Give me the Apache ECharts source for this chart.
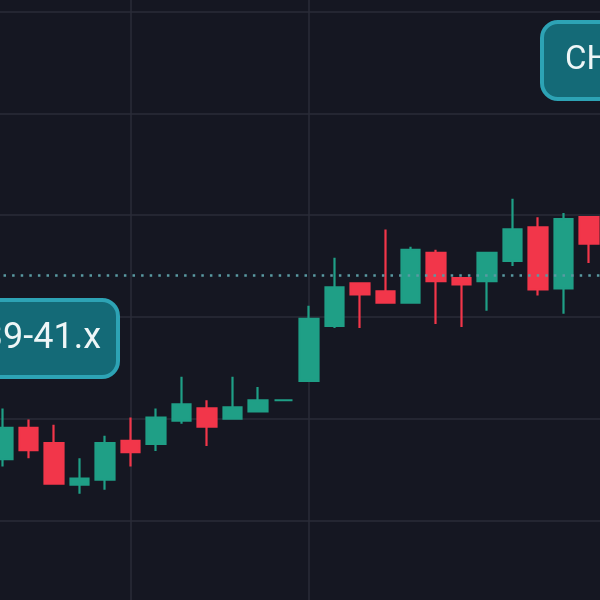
<!DOCTYPE html>
<html>
<head>
<meta charset="utf-8">
<style>html,body{margin:0;padding:0;background:#151722;}#c{width:600px;height:600px;}</style>
<script src="https://cdn.jsdelivr.net/npm/echarts@6/dist/echarts.min.js"></script>
</head>
<body>
<div id="c"></div>
<script>
const categories = ['1','2','3','4','5','6','7','8','9','10','11','12','13','14','15','16','17','18','19','20','21','22','23','24'];
const opens  = [36.60,36.91,36.76,36.35,36.40,36.78,36.75,36.98,37.10,37.00,37.07,37.18,37.37,37.91,38.33,38.25,38.14,38.63,38.38,38.35,38.55,38.88,38.28,38.98];
const closes = [36.91,36.69,36.36,36.41,36.76,36.67,37.01,37.14,36.92,37.11,37.18,37.18,37.98,38.29,38.22,38.14,38.66,38.35,38.32,38.63,38.86,38.27,38.96,38.72];
const lows   = [36.53,36.61,36.35,36.26,36.30,36.53,36.68,36.95,36.73,36.99,37.07,37.18,37.37,37.89,37.89,38.13,38.13,37.93,37.90,38.06,38.50,38.21,38.03,38.53];
const highs  = [37.10,36.99,36.94,36.61,36.83,37.01,37.10,37.41,37.18,37.41,37.31,37.18,38.11,38.58,38.33,38.86,38.69,38.66,38.38,38.63,39.16,38.98,39.02,38.98];
const refLevel = 38.41;
const leftLabel = '39-41.x';
const rightLabel = 'CH';
const gridLineCats = ['6', '13'];

const ohlc = categories.map((c, i) => [opens[i], closes[i], lows[i], highs[i]]);
const UP = '#1f9f86', DOWN = '#f2364a';

const chart = echarts.init(document.getElementById('c'), null, {renderer: 'canvas'});
chart.setOption({
  backgroundColor: '#151722',
  animation: false,
  grid: {left: -22.3, right: -14.5, top: -90, bottom: -22, outerBoundsMode: 'none', containLabel: false},
  xAxis: {
    type: 'category', data: categories, boundaryGap: false, min: -1, max: 24,
    axisLine: {show: false}, axisTick: {show: false}, axisLabel: {show: false},
    splitLine: {show: true, interval: (idx, val) => gridLineCats.indexOf(val) >= 0,
      lineStyle: {color: '#2a2d39', width: 1.5}}
  },
  yAxis: {
    type: 'value', min: 35, max: 42, interval: 1,
    axisLine: {show: false}, axisTick: {show: false}, axisLabel: {show: false},
    splitLine: {show: true, lineStyle: {color: '#2a2d39', width: 1.5}}
  },
  series: [{
    type: 'candlestick',
    data: ohlc,
    barWidth: 19,
    clip: false,
    itemStyle: {color: UP, color0: DOWN, borderColor: UP, borderColor0: DOWN, borderColorDoji: UP, borderWidth: 2.2},
    markLine: {
      silent: true, symbol: 'none', animation: false,
      label: {show: false},
      lineStyle: {color: '#5a9aa2', type: [2.5, 6.1], width: 2.5},
      data: [{yAxis: refLevel}]
    }
  }],
  graphic: [
    {type: 'group', z: 100, children: [
      {type: 'rect', z: 100, shape: {x: -40, y: 300, width: 158, height: 77, r: 16},
        style: {fill: '#146a77', stroke: '#2da3b5', lineWidth: 4}},
      {type: 'text', z: 101, x: 101, y: 339,
        style: {text: leftLabel, fill: '#eef6f7', font: '36px Roboto', align: 'right', verticalAlign: 'middle'}}
    ]},
    {type: 'group', z: 100, children: [
      {type: 'rect', z: 100, shape: {x: 542, y: 22, width: 110, height: 77, r: 16},
        style: {fill: '#146a77', stroke: '#2da3b5', lineWidth: 4}},
      {type: 'text', z: 101, x: 565, y: 61,
        style: {text: rightLabel, fill: '#eef6f7', font: '33px Roboto', align: 'left', verticalAlign: 'middle'}}
    ]}
  ]
});
</script>
</body>
</html>
